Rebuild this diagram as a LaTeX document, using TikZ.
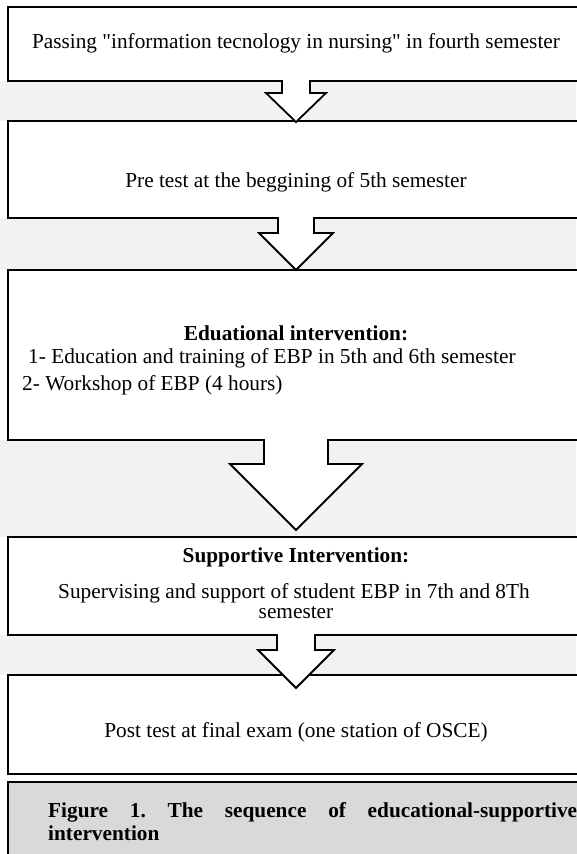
\documentclass[tikz,border=0pt]{standalone}
\usepackage{fontspec}
\setmainfont{Liberation Serif}
\usetikzlibrary{calc,backgrounds}

\definecolor{gapgray}{HTML}{F2F2F2}
\definecolor{capgray}{HTML}{D9D9D9}

\tikzset{
  stage/.style={draw, line width=1.8pt, minimum width=576pt, inner sep=0pt, outer sep=0pt, anchor=north},
  txt/.style={inner sep=0pt, anchor=base, font=\fontsize{21.3}{24}\selectfont},
  arrowbody/.style={draw, fill=white, line width=1.8pt, line join=miter},
}

% block arrow: from node, shaft length, shaft half width, head half width, tip
\newcommand{\blockarr}[5]{%
  \path (#1.south) ++(-#3,1) coordinate (sl) (#1.south) ++(#3,1) coordinate (sr)
        (#1.south) ++(-#3,-#2) coordinate (ml) (#1.south) ++(#3,-#2) coordinate (mr)
        (#1.south) ++(-#4,-#2) coordinate (hl) (#1.south) ++(#4,-#2) coordinate (hr);
  \filldraw[arrowbody] (sl) -- (ml) -- (hl) -- (#5) -- (hr) -- (mr) -- (sr);
}

\frenchspacing

\begin{document}
\begin{tikzpicture}[x=1pt,y=1pt]
\useasboundingbox (0,0) rectangle (576,-854);
\coordinate (L) at (0,0);
\coordinate (R) at (576,0);

% stages
\node[stage, minimum height=74pt] (b1) at (296,-7) {};
\node[stage, minimum height=97pt] (b2) at (296,-121) {};
\node[stage, minimum height=170pt] (b3) at (296,-270) {};
\node[stage, minimum height=98pt] (b4) at (296,-537) {};
\node[stage, minimum height=99pt] (b5) at (296,-675) {};

% shaded gaps
\begin{scope}[on background layer]
  \fill[gapgray] (b1.south -| L) rectangle (b2.north -| R);
  \fill[gapgray] (b2.south -| L) rectangle (b3.north -| R);
  \fill[gapgray] (b3.south -| L) rectangle (b4.north -| R);
  \fill[gapgray] (b4.south -| L) rectangle (b5.north -| R);
\end{scope}

% caption panel
\node[fill=capgray, minimum width=600pt, minimum height=90pt, inner sep=0pt, outer sep=0pt, anchor=north west] (cap) at (8,-782) {};
\draw[line width=1.8pt] (cap.south west) -- (cap.north west) -- (cap.north east);

% texts
\node[txt] (t1) at (296,-48) {Passing \textquotedbl information tecnology in nursing\textquotedbl\ in fourth semester};
\node[txt] (t2) at (296,-187) {Pre test at the beggining of 5th semester};
\node[txt, font=\fontsize{21.3}{24}\selectfont\bfseries] (t3a) at (296,-340) {Eduational intervention:};
\node[txt, anchor=base west] (t3b) at (28,-363) {1- Education and training of EBP in 5th and 6th semester};
\node[txt, anchor=base west] (t3c) at (22,-390) {2- Workshop of EBP (4 hours)};
\node[txt, font=\fontsize{21.3}{24}\selectfont\bfseries] (t4a) at (296,-562) {Supportive Intervention:};
\node[txt] (t4b) at (294,-598) {Supervising and support of student EBP in 7th and 8Th};
\node[txt] (t4c) at (296,-618) {semester};
\node[txt] (t5) at (296,-737) {Post test at final exam (one station of OSCE)};
\node[txt, anchor=base west, font=\fontsize{21.3}{24}\selectfont\bfseries] (c1) at (48,-817)
  {\makebox[529pt][s]{Figure 1. The sequence of educational-supportive}};
\node[txt, anchor=base west, font=\fontsize{21.3}{24}\selectfont\bfseries] (c2) at (48,-840) {intervention};

% arrows
\coordinate (tip1) at (296,-122);
\coordinate (tip2) at (296,-270);
\coordinate (tip3) at (296,-530);
\coordinate (tip4) at (296,-688);
\blockarr{b1}{12}{14}{30}{tip1}
\blockarr{b2}{15}{18}{37}{tip2}
\blockarr{b3}{24}{32}{66}{tip3}
\blockarr{b4}{15}{19}{38}{tip4}
\end{tikzpicture}
\end{document}
